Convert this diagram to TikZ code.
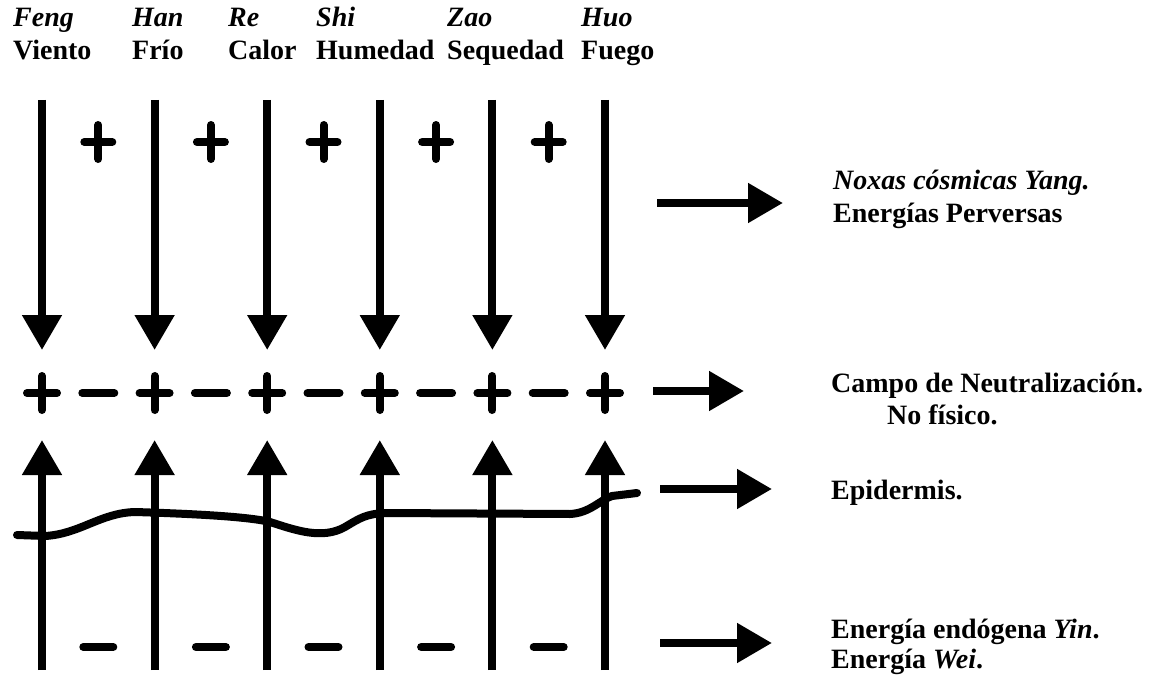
\documentclass[tikz,border=0pt]{standalone}
\usepackage{fontspec}
\setmainfont{Liberation Serif}
\usetikzlibrary{arrows.meta}
\begin{document}
\begin{tikzpicture}[x=1pt,y=-1pt,
  lbl/.style={font=\fontsize{28}{33}\selectfont\bfseries, inner sep=0pt, anchor=base west},
  ar/.style={line width=8pt, -{Triangle[length=35pt,width=38pt]}},
  sgn/.style={line width=8pt, line cap=round},
  skin/.style={line width=8pt, line cap=round, line join=round}]
\useasboundingbox (0,0) rectangle (1160,677);

% top labels
\foreach \a/\b/\x [count=\k] in {Feng/Viento/13, Han/Frío/132, Re/Calor/228, Shi/Humedad/316, Zao/Sequedad/447, Huo/Fuego/581}{
  \node[lbl] (name\k) at (\x,27) {\itshape\a};
  \node[lbl] (word\k) at (\x,60) {\b};
}

% columns: down arrows and up arrows
\foreach \i in {0,...,5}{
  \pgfmathsetmacro{\cx}{42+112.6*\i}
  \coordinate (dtop\i) at (\cx,100);
  \coordinate (dtip\i) at (\cx,350);
  \coordinate (ubot\i) at (\cx,670);
  \coordinate (utip\i) at (\cx,440);
  \draw[ar] (dtop\i) -- (dtip\i);
  \draw[ar] (ubot\i) -- (utip\i);
  % plus in middle row
  \draw[sgn] (\cx-15,393) -- (\cx+15,393) (\cx,376) -- (\cx,410);
}

% signs between columns
\foreach \i in {0,...,4}{
  \pgfmathsetmacro{\mx}{98.3+112.6*\i}
  \draw[sgn] (\mx-14,142) -- (\mx+14,142) (\mx,125) -- (\mx,159);
  \draw[sgn] (\mx-16,393) -- (\mx+16,393);
  \draw[sgn] (\mx-15,647) -- (\mx+15,647);
}

% epidermis line
\draw[skin] (17,535) -- (45,536)
  .. controls (80,534) and (100,513) .. (135,512)
  .. controls (200,514) and (250,517) .. (270,522)
  .. controls (295,530) and (322,540) .. (345,527)
  .. controls (360,518) and (366,514) .. (385,513)
  -- (570,514)
  .. controls (590,513) and (600,500) .. (612,496)
  -- (637,493);

% right arrows
\coordinate (a1s) at (657,203); \coordinate (a1e) at (783,203);
\coordinate (a2s) at (653,391); \coordinate (a2e) at (744,391);
\coordinate (a3s) at (660,489); \coordinate (a3e) at (772,489);
\coordinate (a4s) at (660,643); \coordinate (a4e) at (772,643);
\draw[ar] (a1s) -- (a1e);
\draw[ar] (a2s) -- (a2e);
\draw[ar] (a3s) -- (a3e);
\draw[ar] (a4s) -- (a4e);

% right texts
\node[lbl] (noxas) at (833,189) {\itshape Noxas cósmicas Yang.};
\node[lbl] (perv) at (833,222) {Energías Perversas};
\node[lbl] (campo) at (831,392) {Campo de Neutralización.};
\node[lbl] (nofis) at (887,424) {No físico.};
\node[lbl] (epi) at (831,499) {Epidermis.};
\node[lbl] (endo) at (831,638) {Energía endógena \textit{Yin}.};
\node[lbl] (wei) at (831,668) {Energía \textit{Wei}.};
\end{tikzpicture}
\end{document}
